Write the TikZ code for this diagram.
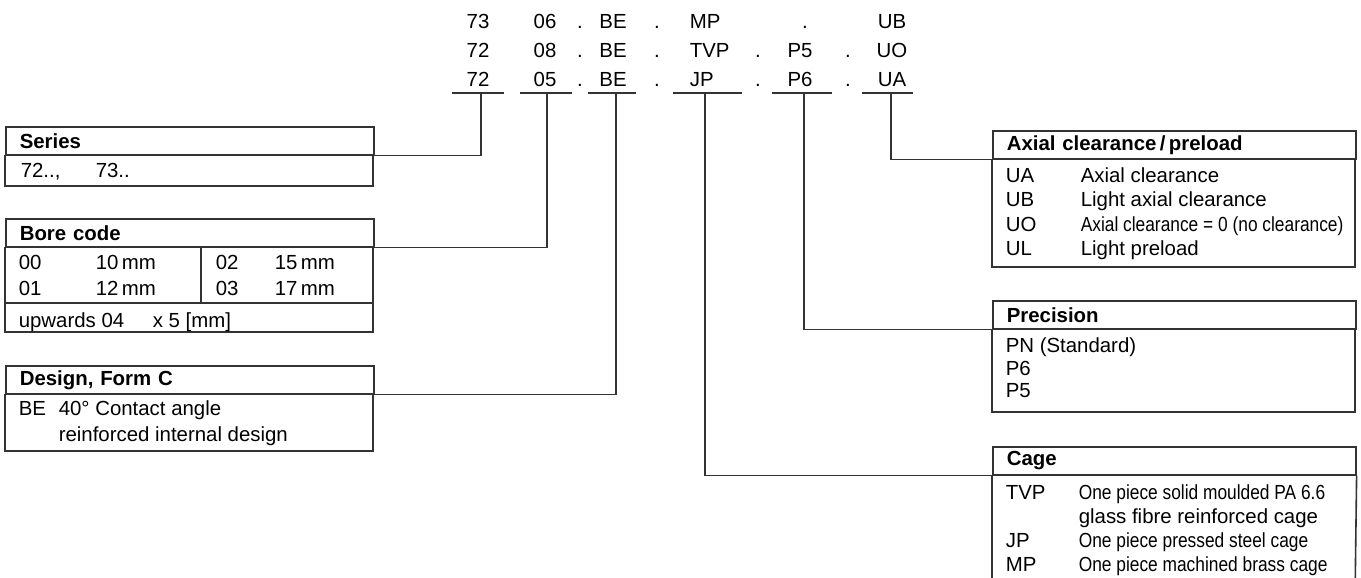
\documentclass[tikz,border=0pt]{standalone}
\usepackage{fontspec}
\setmainfont{Liberation Sans}
\newfontfamily\narrowfont[FakeStretch=0.85]{Liberation Sans}
\begin{document}
\begin{tikzpicture}[x=0.5pt,y=-0.5pt,line width=0.8pt,color=black!80,
  every node/.style={inner sep=0pt,anchor=base west,text=black,font=\fontsize{10.2}{12}\selectfont},
  code/.style={anchor=base},
  headbox/.style={draw,anchor=north west,minimum height=14pt,inner xsep=7pt,
    text width=#1,align=left,font=\fontsize{10.2}{12}\selectfont\bfseries},
  headbox/.default=170pt]
\useasboundingbox (0,0) rectangle (1361,578);
% designation rows
\foreach \x/\t [count=\i] in {478/73,545/06,580/.,613/BE,657/.,805/.,892/UB}
  \node[code] (a\i) at (\x,28) {\t};
\node (a8) at (689,28) {MP};
\foreach \x/\t [count=\i] in {478/72,545/08,580/.,613/BE,657/.,758/.,800/P5,848/.,892/UO}
  \node[code] (b\i) at (\x,57) {\t};
\node (b10) at (689,57) {TVP};
\foreach \x/\t [count=\i] in {478/72,545/05,580/.,613/BE,657/.,758/.,800/P6,848/.,892/UA}
  \node[code] (c\i) at (\x,86) {\t};
\node (c10) at (689,86) {JP};
\foreach \a/\b/\m [count=\i] in {452/504/481,520/572/547,588/636/616,673/742/705,772/832/804,862/913/891}{
  \draw (\a,93)--(\b,93);
  \coordinate (u\i) at (\m,93);}
% left boxes
\node[headbox] (ser) at (5,126) {Series};
\draw (ser.south west) rectangle (373,186);
\node (ser1) at (20,177) {72..,};
\node (ser2) at (95,177) {73..};
\node[headbox] (bore) at (5,218) {Bore code};
\draw (bore.south west) rectangle (373,332);
\draw (5,303)--(373,303);
\draw (201,246)--(201,303);
\node (b00) at (18,269) {00};
\node (b00v) at (95,269) {10\,mm};
\node (b02) at (215,269) {02};
\node (b02v) at (274,269) {15\,mm};
\node (b01) at (18,295) {01};
\node (b01v) at (95,295) {12\,mm};
\node (b03) at (215,295) {03};
\node (b03v) at (274,295) {17\,mm};
\node (bup) at (18,327) {upwards 04};
\node (bupv) at (152,327) {x 5 [mm]};
\node[headbox] (des) at (5,365) {Design, Form C};
\draw (des.south west) rectangle (373,451);
\node (dbe) at (18,415) {BE};
\node (dbe1) at (58,415) {40° Contact angle};
\node (dbe2) at (58,441) {reinforced internal design};
% right boxes
\node[headbox=167.5pt] (axial) at (992,130) {Axial clearance\,/\,preload};
\draw (axial.south west) rectangle (1355,267);
\foreach \y/\k/\t [count=\i] in {182/UA/Axial clearance,206/UB/Light axial clearance,
    231/UO/{\narrowfont Axial clearance = 0 (no clearance)},255/UL/Light preload}{
  \node (ak\i) at (1005,\y) {\k};
  \node (at\i) at (1080,\y) {\t};}
\node[headbox=167.5pt] (prec) at (992,300) {Precision};
\draw (prec.south west) rectangle (1355,412);
\node (p1) at (1005,352) {PN (Standard)};
\node (p2) at (1005,375) {P6};
\node (p3) at (1005,397) {P5};
\node[headbox=167.5pt] (cage) at (992,446) {Cage};
\draw (cage.south west)--(992,600) (cage.south east)--(1355,600);
\node (ck1) at (1005,499) {TVP};
\node (ct1) at (1078,499) {\narrowfont One piece solid moulded PA 6.6};
\node (ct2) at (1078,523) {glass fibre reinforced cage};
\node (ck3) at (1005,547) {JP};
\node (ct3) at (1078,547) {\narrowfont One piece pressed steel cage};
\node (ck4) at (1005,571) {MP};
\node (ct4) at (1078,571) {\narrowfont One piece machined brass cage};
% connectors
\draw (u1) |- (ser.south east);
\draw (u2) |- (bore.south east);
\draw (u3) |- (des.south east);
\draw (u4) |- (cage.south west);
\draw (u5) |- (prec.south west);
\draw (u6) |- (axial.south west);
\end{tikzpicture}
\end{document}
